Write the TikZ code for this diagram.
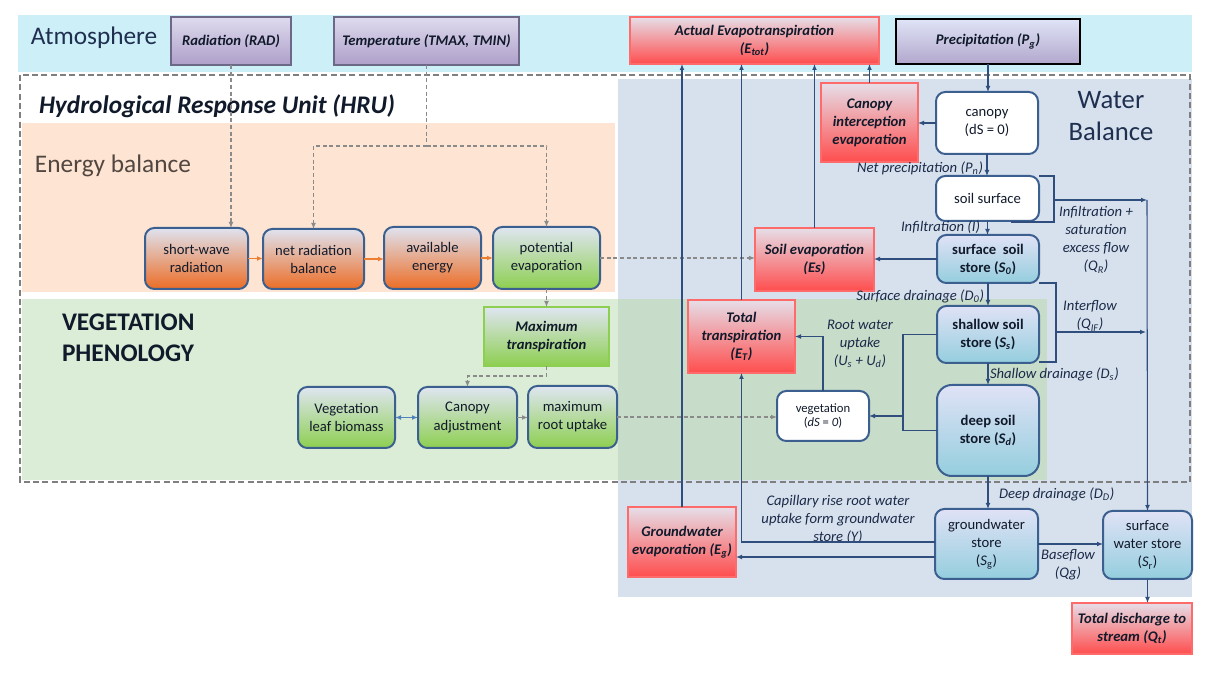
\documentclass[tikz,border=0pt]{standalone}
\usepackage{fontspec}
\setmainfont{Carlito}
\usetikzlibrary{arrows.meta,calc}
\definecolor{txt}{HTML}{111A2B}
\definecolor{lbl}{HTML}{1B2A48}
\definecolor{nodeblue}{HTML}{3B5F8E}
\definecolor{lineblue}{HTML}{2F4E7E}
\definecolor{dgray}{HTML}{8A8A8A}
\definecolor{hrugray}{HTML}{7F7F7F}
\definecolor{cyanbg}{HTML}{CDEFF8}
\definecolor{bluebg}{HTML}{D7E1EE}
\definecolor{orangebg}{HTML}{FDE4D3}
\definecolor{greenbg}{HTML}{DBEDD6}
\definecolor{greenblue}{HTML}{C8DCCA}
\definecolor{etop}{HTML}{DFE3F0}
\definecolor{ebot}{HTML}{EC6D26}
\definecolor{gtop}{HTML}{DFE5F1}
\definecolor{gbot}{HTML}{8DCF50}
\definecolor{gborder}{HTML}{8DCF50}
\definecolor{rtop}{HTML}{E6DEE8}
\definecolor{rbot}{HTML}{FF4D4D}
\definecolor{rborder}{HTML}{FF6B6B}
\definecolor{ptop}{HTML}{DEDBEE}
\definecolor{pbot}{HTML}{AE9FCA}
\definecolor{pborder}{HTML}{6B6888}
\definecolor{prtop}{HTML}{DFE4F7}
\definecolor{prbot}{HTML}{B2A7CC}
\definecolor{stop}{HTML}{E0E2F6}
\definecolor{sbot}{HTML}{94CEDE}
\definecolor{orarr}{HTML}{ED7D31}
\definecolor{bluedbl}{HTML}{4F81BD}
\definecolor{navyt}{HTML}{1F2F4F}
\definecolor{ebtxt}{HTML}{514640}
\newcommand\mysub[1]{\textsubscript{#1}}
\begin{document}
\begin{tikzpicture}[x=0.75pt,y=-0.75pt,
  every node/.style={align=center, text=txt, font=\fontsize{11}{13.5}\selectfont, inner sep=0pt, outer sep=0pt},
  bb/.style n args={4}{at={({(#1+#3)/2},{(#2+#4)/2})}, minimum width={(#3-#1)*0.75pt}, minimum height={(#4-#2)*0.75pt}},
  energybox/.style={draw=nodeblue, line width=1.5pt, rounded corners=7pt, top color=etop, bottom color=ebot},
  greenbox/.style={draw=nodeblue, line width=1.5pt, rounded corners=7pt, top color=gtop, bottom color=gbot},
  greensq/.style={draw=gborder, line width=0.8pt, top color=gtop, bottom color=gbot, font=\bfseries\itshape\fontsize{11}{13.5}\selectfont},
  redbox/.style={draw=rborder, line width=0.8pt, top color=rtop, bottom color=rbot, font=\bfseries\itshape\fontsize{11}{13.5}\selectfont},
  purplebox/.style={draw=pborder, line width=0.8pt, top color=ptop, bottom color=pbot, font=\bfseries\itshape\fontsize{11}{13.5}\selectfont},
  precipbox/.style={draw=black, line width=1.2pt, top color=prtop, bottom color=prbot, font=\bfseries\itshape\fontsize{11}{13.5}\selectfont},
  whitebox/.style={draw=nodeblue, line width=1.5pt, rounded corners=7pt, fill=white},
  storebox/.style={draw=nodeblue, line width=1.5pt, rounded corners=7pt, top color=stop, bottom color=sbot},
  lab/.style={font=\itshape\fontsize{11}{13.5}\selectfont, text=lbl},
  bline/.style={draw=lineblue, line width=0.8pt},
  barr/.style={draw=lineblue, line width=0.8pt, -{Latex[length=4.5pt,width=3.6pt]}},
  gline/.style={draw=dgray, line width=0.8pt, dash pattern=on 3pt off 2pt},
  garr/.style={draw=dgray, line width=0.8pt, dash pattern=on 3pt off 2pt, -{Latex[length=4.5pt,width=3.6pt]}},
  grarr/.style={draw=dgray, line width=0.8pt, -{Latex[length=4.5pt,width=3.6pt]}},
  oarr/.style={draw=orarr, line width=1pt, -{Latex[length=4.5pt,width=3.6pt]}},
  dblarr/.style={draw=bluedbl, line width=1pt, {Latex[length=4.5pt,width=3.6pt]}-{Latex[length=4.5pt,width=3.6pt]}}
]
\useasboundingbox (0,0) rectangle (1208,673);
\fill[white] (0,0) rectangle (1208,673);
% background regions
\fill[cyanbg] (18,15) rectangle (1192,72);
\fill[bluebg] (618,79) rectangle (1192,597);
\fill[orangebg] (22,123) rectangle (615,292);
\fill[greenbg] (22,299) rectangle (618,480);
\fill[greenblue] (618,299) rectangle (1047,480);
\draw[draw=hrugray, line width=1.9pt, dash pattern=on 4.5pt off 2.5pt] (20,75) rectangle (1190,482);

% region titles
\node[font=\fontsize{19}{23}\selectfont, text=navyt, anchor=west] (tatm) at (31,38) {Atmosphere};
\node[font=\bfseries\itshape\fontsize{19}{23}\selectfont, anchor=west] (thru) at (39,106) {Hydrological Response Unit (HRU)};
\node[font=\fontsize{19}{23}\selectfont, text=ebtxt, anchor=west] (teb) at (35,166) {Energy balance};
\node[font=\bfseries\fontsize{19}{23.5}\selectfont, anchor=west, align=left] (tveg) at (62,338) {VEGETATION\\PHENOLOGY};
\node[font=\fontsize{20}{24}\selectfont, text=navyt] (twb) at (1111,116) {Water\\Balance};

% atmosphere boxes
\node[purplebox, bb={171}{17}{291}{65}] (rad) {Radiation (RAD)};
\node[purplebox, bb={334}{17}{519}{65}] (temp) {Temperature (TMAX, TMIN)};
\node[redbox, bb={630}{17}{879}{64}] (aet) {Actual Evapotranspiration\\(\textit{E}\mysub{tot})};
\node[precipbox, bb={896}{19}{1080}{64}] (precip) {Precipitation (\textit{P}\mysub{g})};

% energy balance boxes
\node[energybox, bb={145}{228}{248}{289}] (sw) {short-wave\\radiation};
\node[energybox, bb={263}{229}{364}{289}] (nrb) {net radiation\\balance};
\node[energybox, bb={384}{227}{481}{289}] (ae) {available\\energy};
\node[greenbox, bb={493}{227}{600}{289}] (pe) {potential\\evaporation};

% vegetation boxes
\node[greensq, bb={484}{307}{609}{366}] (maxT) {Maximum\\transpiration};
\node[greenbox, bb={298}{387}{395}{448}] (lb) {Vegetation\\leaf biomass};
\node[greenbox, bb={418}{387}{517}{448}] (ca) {Canopy\\adjustment};
\node[greenbox, bb={528}{386}{617}{448}] (mru) {maximum\\root uptake};

% water balance boxes
\node[redbox, bb={821}{83}{918}{162}] (cie) {Canopy\\interception\\evaporation};
\node[whitebox, bb={936}{92}{1038}{154}] (canopy) {canopy\\(dS = 0)};
\node[whitebox, bb={936}{176}{1039}{221}] (ss) {soil surface};
\node[storebox, bb={937}{235}{1039}{283}, font=\bfseries\fontsize{11}{13.5}\selectfont] (sss) {surface\ \ soil\\store (\textit{S}\mysub{\textit{0}})};
\node[storebox, bb={937}{306}{1039}{363}, font=\bfseries\fontsize{11}{13.5}\selectfont] (shallow) {shallow soil\\store (\textit{S}\mysub{\textit{s}})};
\node[storebox, bb={937}{385}{1039}{476}, rounded corners=11pt, font=\bfseries\fontsize{11}{13.5}\selectfont] (deep) {deep soil\\store (\textit{S}\mysub{\textit{d}})};
\node[redbox, bb={755}{228}{874}{291}] (se) {Soil evaporation\\(Es)};
\node[redbox, bb={688}{300}{795}{373}] (tt) {Total\\transpiration\\(\textit{E}\mysub{T})};
\node[whitebox, bb={777}{391}{869}{441}, font=\fontsize{9.5}{11}\selectfont] (veg) {vegetation\\(\textit{dS} = \textit{0})};
\node[storebox, bb={935}{509}{1038}{579}] (gw) {groundwater\\store\\(\textit{S}\mysub{g})};
\node[storebox, bb={1103}{511}{1192}{579}] (sws) {surface\\water store\\(\textit{S}\mysub{r})};
\node[redbox, bb={628}{507}{736}{577}] (gwe) {Groundwater\\evaporation (\textit{E}\mysub{g})};
\node[redbox, bb={1072}{603}{1192}{654}] (tqd) {Total discharge to\\stream (\textit{Q}\mysub{t})};

% labels
\node[lab, anchor=east] (lnp) at (983,168) {Net precipitation (\textit{P}\mysub{n})};
\node[lab, anchor=east] (linf) at (980,227) {Infiltration (\textit{I})};
\node[lab, anchor=east] (lsd) at (984,296) {Surface drainage (\textit{D}\mysub{0})};
\node[lab, anchor=west] (lshd) at (990,374) {Shallow drainage (\textit{D}\mysub{s})};
\node[lab, anchor=west] (ldd) at (999,494) {Deep drainage (\textit{D}\mysub{D})};
\node[lab] (lqr) at (1096,240) {Infiltration +\\saturation\\excess flow\\(\textit{Q}\mysub{R})};
\node[lab] (lif) at (1090,316) {Interflow\\(\textit{Q}\mysub{IF})};
\node[lab] (lru) at (860,344) {Root water\\uptake\\(\textit{U}\mysub{s} + \textit{U}\mysub{d})};
\node[lab] (lcap) at (838,519) {Capillary rise root water\\uptake form groundwater\\store (\textit{Y})};
\node[lab] (lbf) at (1068,565) {Baseflow\\(Qg)};

% energy connectors
\draw[garr] (rad.south) -- (rad.south |- sw.north);
\path (temp.south) ++(0,81) coordinate (tj);
\draw[gline] (temp.south) -- (tj);
\draw[garr] (tj) -| (nrb.north);
\draw[garr] (tj) -| (pe.north);
\draw[oarr] (sw.east) -- (sw.east -| nrb.west);
\draw[oarr] (nrb.east) -- (nrb.east -| ae.west);
\draw[oarr] (ae.east) -- (ae.east -| pe.west);
\draw[garr] (pe.east) -- (pe.east -| se.west);
\draw[garr] (pe.south) -- (maxT.north);
\draw[garr] (maxT.south) -- ++(0,10) -| (ca.north);
\draw[dblarr] (lb.east) -- (lb.east -| ca.west);
\draw[grarr] (ca.east) -- (ca.east -| mru.west);
\draw[garr] (mru.east) -- (mru.east -| veg.west);

% water connectors
\draw[barr] (precip.south) -- (precip.south |- canopy.north);
\draw[barr] (canopy.west) -- (canopy.west -| cie.east);
\draw[barr] (cie.north) -- (cie.north |- aet.south);
\draw[barr] (canopy.south) -- (canopy.south |- ss.north);
\draw[barr] (ss.south) -- (ss.south |- sss.north);
\draw[barr] (sss.south) -- (sss.south |- shallow.north);
\draw[barr] (shallow.south) -- (shallow.south |- deep.north);
\draw[barr] (deep.south) -- (deep.south |- gw.north);
\draw[barr] (sss.west) -- (sss.west -| se.east);
\draw[barr] (se.north) -- (se.north |- aet.south);
\draw[barr] (tt.north) -- (tt.north |- aet.south);
\draw[barr] (gwe.north) -- (gwe.north |- aet.south);
\draw[barr] (veg.north) |- (tt.east);
\draw[bline] (shallow.west) -- ++(-34,0) |- (deep.west);
\coordinate (ru) at (903,416);
\draw[barr] (ru) -- (veg.east);
\draw[barr] ([yshift=1.5pt]gw.west) -| (tt.south);
\draw[barr] ([yshift=-9.75pt]gw.west) -- ([yshift=-9.75pt]gw.west -| gwe.east);
\draw[barr] (gw.east) -- (gw.east -| sws.west);
\draw[barr] (sws.south) -- (sws.south |- tqd.north);
% surface runoff bracket
\coordinate (qa) at (1054,176);
\coordinate (qb) at (1054,222);
\coordinate (qc) at (1011,222);
\coordinate (qm) at (1054,200);
\coordinate (qe) at (1147,200);
\draw[bline] (ss.north east) -- (qa) -- (qb) -- (qc);
\draw[barr] (qm) -- (qe);
\draw[barr] (qe) -- (sws.north);
% interflow bracket
\coordinate (ia) at (1056,283);
\coordinate (ib) at (1056,362);
\coordinate (ic) at (1039,362);
\coordinate (im) at (1056,332);
\coordinate (ie) at (1146,332);
\draw[bline] (sss.south east) -- (ia) -- (ib) -- (ic);
\draw[barr] (im) -- (ie);
\end{tikzpicture}
\end{document}
